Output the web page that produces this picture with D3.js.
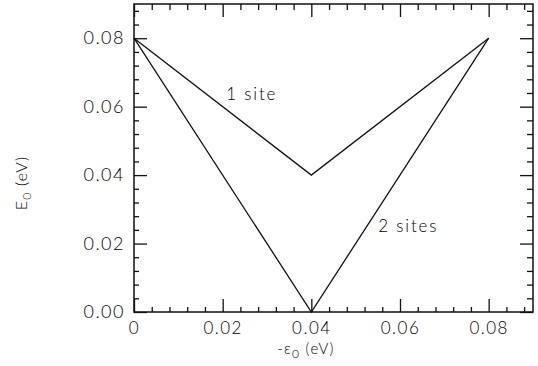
<!DOCTYPE html>
<html>
<head>
<meta charset="utf-8">
<script src="https://cdn.jsdelivr.net/npm/d3@7"></script>
<style>
  body { margin: 0; background: #fff; }
  svg { display: block; }
  .tick text, .lbl { font-family: Lato, "DejaVu Sans", sans-serif; font-weight: 300; fill: #000; }
  .domain { stroke: none; }
  .tick line { stroke: #111; stroke-width: 1.3; }
</style>
</head>
<body>
<script>
// values
const epsilon = [0, 0.04, 0.08];
const oneSite = [0.08, 0.04, 0.08];
const twoSites = [0.08, 0.00, 0.08];
const majorTicks = [0, 0.02, 0.04, 0.06, 0.08];
const xTickLabels = ["0", "0.02", "0.04", "0.06", "0.08"];
const yTickLabels = ["0.00", "0.02", "0.04", "0.06", "0.08"];

const width = 538, height = 366;
const m = {left: 134, right: 5, top: 4, bottom: 54};

const svg = d3.select("body").append("svg")
    .attr("width", width)
    .attr("height", height);

let x = d3.scaleLinear().domain([0, 0.09]).range([m.left, width - m.right]);
let y = d3.scaleLinear().domain([0, 0.09]).range([height - m.bottom, m.top]);

let minorTicks = d3.range(0, 23).filter(i => i % 5 != 0).map(i => i * 0.004);

// major + minor ticks on all four sides, pointing inwards
function ticks(axisFn, scale, tx, ty, size, vals, labels, pad) {
  let ax = axisFn(scale).tickValues(vals).tickSizeInner(size).tickSizeOuter(0).tickPadding(pad);
  ax.tickFormat((d, i) => labels ? labels[i] : "");
  return svg.append("g").attr("transform", `translate(${tx},${ty})`).call(ax);
}

let bottomY = y(0), topY = y(0.09), leftX = x(0), rightX = x(0.09);

let xb = ticks(d3.axisBottom, x, 0, bottomY, -13, majorTicks, xTickLabels, 10);
ticks(d3.axisBottom, x, 0, bottomY, -5, minorTicks, null, 0);
ticks(d3.axisTop, x, 0, topY, -13, majorTicks, null, 0);
ticks(d3.axisTop, x, 0, topY, -6, minorTicks, null, 0);

let yl = ticks(d3.axisLeft, y, leftX, 0, -13, majorTicks, yTickLabels, 9);
ticks(d3.axisLeft, y, leftX, 0, -5, minorTicks, null, 0);
ticks(d3.axisRight, y, rightX, 0, -13, majorTicks, null, 0);
ticks(d3.axisRight, y, rightX, 0, -6, minorTicks, null, 0);

yl.selectAll(".tick text").style("font-size", "18px").style("letter-spacing", "1.5px");
xb.selectAll(".tick text").style("font-size", "17px").style("letter-spacing", "1.5px");

// frame
svg.append("rect")
    .attr("x", leftX).attr("y", topY)
    .attr("width", rightX - leftX).attr("height", bottomY - topY)
    .attr("fill", "none").attr("stroke", "#111").attr("stroke-width", 1.5);

// curves
let line = d3.line().x(d => x(d[0])).y(d => y(d[1]));

[oneSite, twoSites].forEach(s => {
  svg.append("path")
      .datum(epsilon.map((e, i) => [e, s[i]]))
      .attr("d", line)
      .attr("fill", "none")
      .attr("stroke", "#111")
      .attr("stroke-width", 1.3);
});

// curve labels
svg.append("text").attr("class", "lbl")
    .attr("x", x(0.0208)).attr("y", y(0.062))
    .style("font-size", "17px").style("letter-spacing", "1.8px")
    .text("1 site");

svg.append("text").attr("class", "lbl")
    .attr("x", x(0.0551)).attr("y", y(0.0233))
    .style("font-size", "17px").style("letter-spacing", "1.8px")
    .text("2 sites");

// axis titles
let xt = svg.append("text").attr("class", "lbl")
    .attr("x", 306).attr("y", 354)
    .attr("text-anchor", "middle")
    .style("font-size", "15px").style("letter-spacing", "1.2px");
xt.append("tspan").text("-\u03b5");
xt.append("tspan").attr("dy", 4).style("font-size", "12px").text("0");
xt.append("tspan").attr("dy", -4).text(" (eV)");

let yt = svg.append("text").attr("class", "lbl")
    .attr("transform", "translate(27,183) rotate(-90)")
    .attr("text-anchor", "middle")
    .style("font-size", "16px").style("letter-spacing", "1.2px");
yt.append("tspan").text("E");
yt.append("tspan").attr("dy", 4).style("font-size", "12px").text("0");
yt.append("tspan").attr("dy", -4).text(" (eV)");
</script>
</body>
</html>
